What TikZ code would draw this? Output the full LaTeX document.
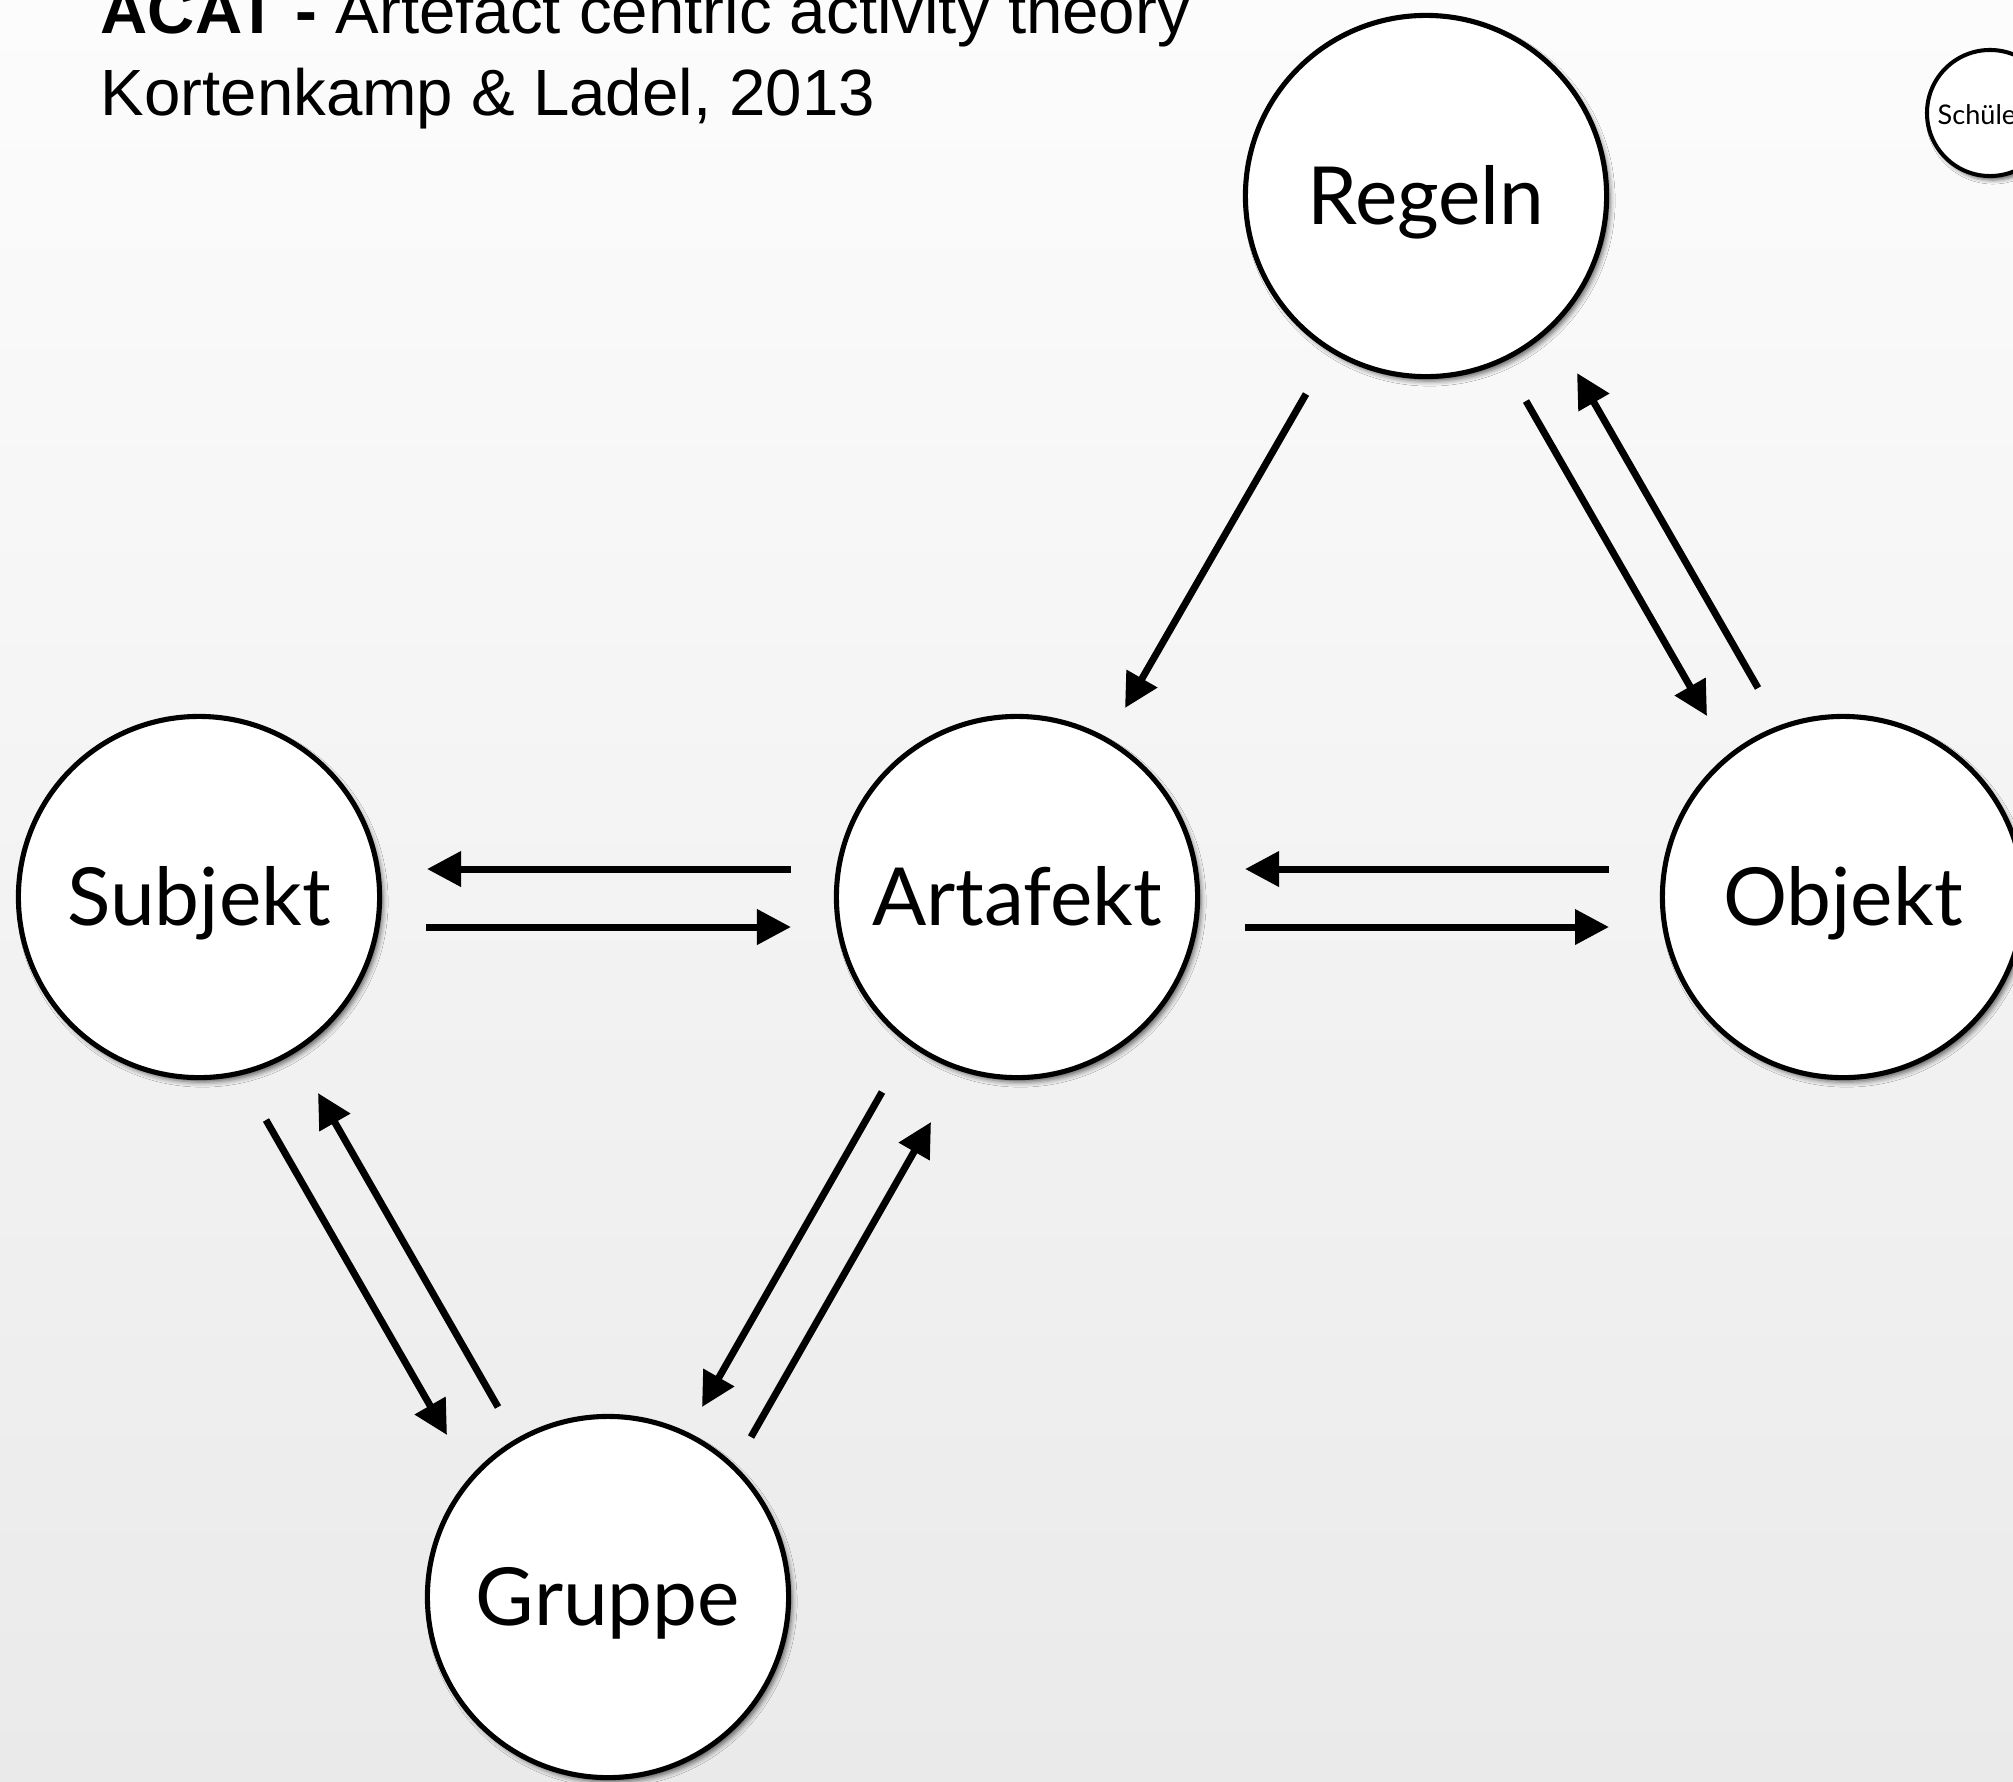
\documentclass[tikz,border=0pt]{standalone}
\usepackage{fontspec}
\setmainfont{Lato}
\newfontfamily\titlefont{Liberation Sans}
\usetikzlibrary{arrows.meta,shadows.blur}
\begin{document}
\begin{tikzpicture}[x=0.01cm,y=-0.01cm,
  concept/.style={circle, draw=black, line width=1.45pt, fill=white,
    minimum size=3.61cm, inner sep=0pt, text height=0.56cm, text depth=0pt,
    font=\fontsize{22.8pt}{26pt}\selectfont,
    blur shadow={shadow xshift=0.035cm, shadow yshift=-0.045cm,
      shadow opacity=60, shadow blur radius=0.05cm}},
  smallconcept/.style={circle, draw=black, line width=1.15pt, fill=white,
    minimum size=1.26cm, inner sep=0pt,
    blur shadow={shadow xshift=0.03cm, shadow yshift=-0.04cm,
      shadow opacity=60, shadow blur radius=0.04cm}},
  flow/.style={line width=2pt, -{Triangle[length=0.34cm,width=0.34cm]}},
  titletext/.style={anchor=base west, inner sep=0pt,
    font=\titlefont\fontsize{18.6pt}{22pt}\selectfont}]

% background
\useasboundingbox (0,0) rectangle (2013,1781);
\shade[top color={rgb,255:red,252;green,252;blue,252},
       bottom color={rgb,255:red,234;green,234;blue,234}]
  (0,0) rectangle (2013,1781);

% title
\node[titletext] (title1) at (100,33) {{\bfseries ACAT -} Artefact centric activity theory};
\node[titletext] (title2) at (100,115) {Kortenkamp \& Ladel, 2013};

% concept circles
\node[concept] (reg) at (1426,196) {Regeln};
\node[concept] (sub) at (199,897) {Subjekt};
\node[concept] (art) at (1017,897) {Artafekt};
\node[concept] (obj) at (1843,897) {Objekt};
\node[concept] (grp) at (608,1597) {Gruppe};

\node[smallconcept] (sch) at (1990,113) {};
\node[anchor=base west, inner sep=0pt, font=\fontsize{7.7pt}{9pt}\selectfont] (schtext) at (1937,124) {Schüle};

% connector end points
\coordinate (h1s) at (791,869);  \coordinate (h1e) at (427,869);
\coordinate (h2s) at (426,927);  \coordinate (h2e) at (791,927);
\coordinate (h3s) at (1609,869); \coordinate (h3e) at (1245,869);
\coordinate (h4s) at (1245,927); \coordinate (h4e) at (1609,927);
\coordinate (d1s) at (1306,394); \coordinate (d1e) at (1125,708);
\coordinate (d2s) at (1526,401); \coordinate (d2e) at (1707,716);
\coordinate (d3s) at (1758,688); \coordinate (d3e) at (1577,373);
\coordinate (d4s) at (266,1120); \coordinate (d4e) at (447,1435);
\coordinate (d5s) at (498,1407); \coordinate (d5e) at (318,1093);
\coordinate (d6s) at (882,1092); \coordinate (d6e) at (702,1407);
\coordinate (d7s) at (751,1437); \coordinate (d7e) at (931,1122);

% connectors
\draw[flow] (h1s) -- (h1e);
\draw[flow] (h2s) -- (h2e);
\draw[flow] (h3s) -- (h3e);
\draw[flow] (h4s) -- (h4e);
\draw[flow] (d1s) -- (d1e);
\draw[flow] (d2s) -- (d2e);
\draw[flow] (d3s) -- (d3e);
\draw[flow] (d4s) -- (d4e);
\draw[flow] (d5s) -- (d5e);
\draw[flow] (d6s) -- (d6e);
\draw[flow] (d7s) -- (d7e);
\end{tikzpicture}
\end{document}
